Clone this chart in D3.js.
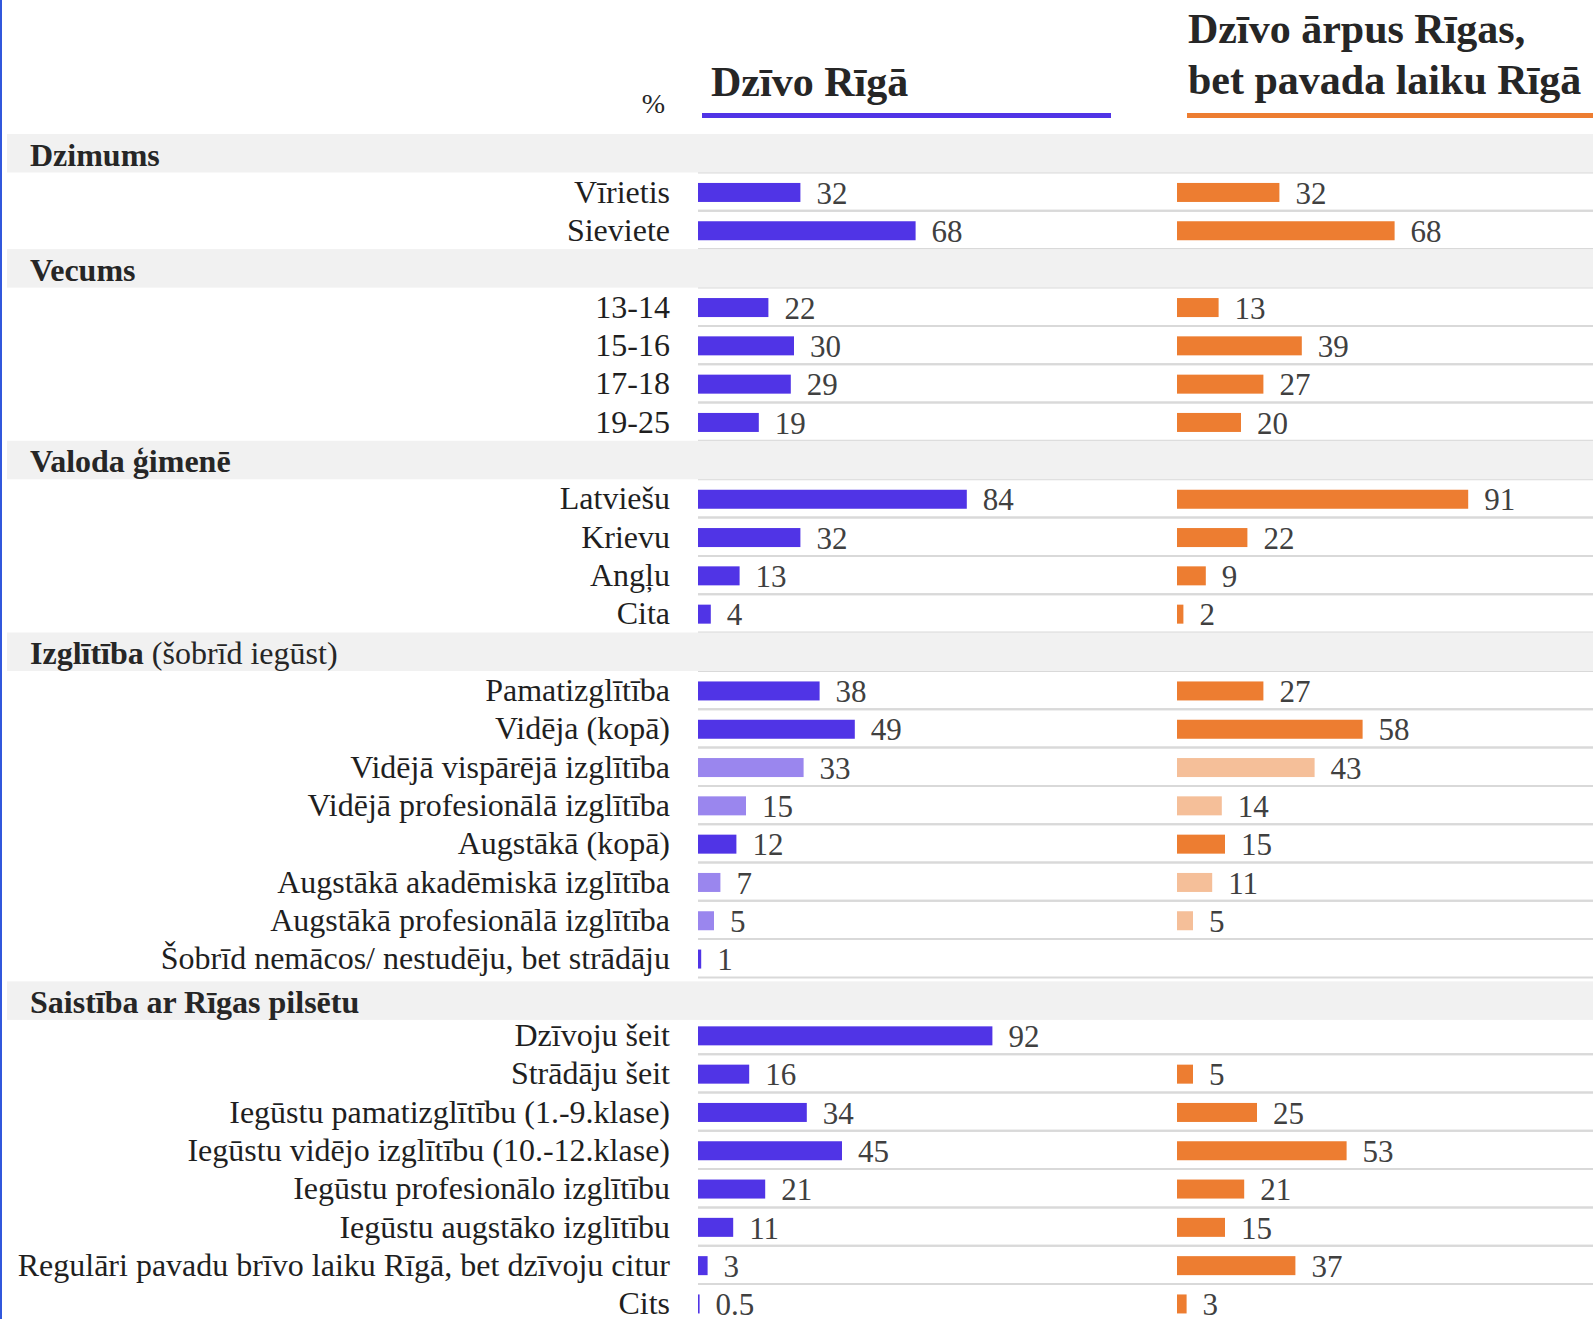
<!DOCTYPE html>
<html><head><meta charset="utf-8">
<script src="https://cdn.jsdelivr.net/npm/d3@7"></script>
<style>
body{margin:0;background:#fff;}
svg{display:block;font-family:"Liberation Serif","Times New Roman",serif;}
</style>
</head><body><svg id="chart" width="1593" height="1319"></svg>
<script>
// ---------- DATA ----------
const sections = ["Dzimums", "Vecums", "Valoda ģimenē", "Izglītība", "Saistība ar Rīgas pilsētu"];
const sectionNotes = ["", "", "", " (šobrīd iegūst)", ""];
const rowSection = [0,0, 1,1,1,1, 2,2,2,2, 3,3,3,3,3,3,3,3, 4,4,4,4,4,4,4,4];
const rowLabels = [
  "Vīrietis", "Sieviete",
  "13-14", "15-16", "17-18", "19-25",
  "Latviešu", "Krievu", "Angļu", "Cita",
  "Pamatizglītība", "Vidēja (kopā)", "Vidējā vispārējā izglītība", "Vidējā profesionālā izglītība",
  "Augstākā (kopā)", "Augstākā akadēmiskā izglītība", "Augstākā profesionālā izglītība",
  "Šobrīd nemācos/ nestudēju, bet strādāju",
  "Dzīvoju šeit", "Strādāju šeit", "Iegūstu pamatizglītību (1.-9.klase)",
  "Iegūstu vidējo izglītību (10.-12.klase)", "Iegūstu profesionālo izglītību",
  "Iegūstu augstāko izglītību", "Regulāri pavadu brīvo laiku Rīgā, bet dzīvoju citur", "Cits"
];
const rigaValues = [32, 68, 22, 30, 29, 19, 84, 32, 13, 4, 38, 49, 33, 15, 12, 7, 5, 1, 92, 16, 34, 45, 21, 11, 3, 0.5];
const outsideValues = [32, 68, 13, 39, 27, 20, 91, 22, 9, 2, 27, 58, 43, 14, 15, 11, 5, null, null, 5, 25, 53, 21, 15, 37, 3];
const rowIsSub = [false,false, false,false,false,false, false,false,false,false,
  false,false,true,true,false,true,true,false, false,false,false,false,false,false,false,false];
const seriesTitles = [["Dzīvo Rīgā"], ["Dzīvo ārpus Rīgas,", "bet pavada laiku Rīgā"]];
const unitLabel = "%";

// ---------- LAYOUT ----------
const W = 1593, H = 1319;
const rowPitch = 38.3, bandH = 38.5, top0 = 134;
const bandShift = [0, 0, 0, 0, 4];
const colX = [698, 1177];
const lineEnd = W;
const colors = {
  dark: ["#5034e6", "#ed7d31"],
  light: ["#9a86ee", "#f5bf99"],
  text: "#1f1f1f", value: "#404040", band: "#f1f1f1", grid: "#d9d9d9"
};

const svg = d3.select("#chart");
const x = d3.scaleLinear().domain([0, 100]).range([0, 320]);

// compute positions
const bandTops = [];
const rowCenters = [];
let yy = top0;
sections.forEach((s, si) => {
  bandTops.push(yy);
  yy += bandH;
  rowSection.forEach((sec, ri) => {
    if (sec === si) { rowCenters[ri] = yy + rowPitch / 2; yy += rowPitch; }
  });
});

// left border
svg.append("rect").attr("x", 0).attr("y", 0).attr("width", 2).attr("height", H).attr("fill", "#3157dc");

// grid lines
const gl = svg.append("g");
rowCenters.forEach(c => {
  [c - rowPitch / 2, c + rowPitch / 2].forEach(ly => {
    gl.append("line").attr("x1", colX[0]).attr("x2", lineEnd)
      .attr("y1", ly).attr("y2", ly)
      .attr("stroke", colors.grid).attr("stroke-width", 2);
  });
});

// section bands
const bands = svg.append("g");
sections.forEach((s, si) => {
  const by = bandTops[si] + bandShift[si];
  bands.append("rect").attr("x", 7).attr("y", by).attr("width", W - 7).attr("height", bandH)
    .attr("fill", colors.band);
  const t = bands.append("text").attr("x", 30).attr("y", by + 31.5)
    .attr("font-size", 32).attr("fill", "#262626");
  t.append("tspan").attr("font-weight", "bold").text(s);
  if (sectionNotes[si]) t.append("tspan").text(sectionNotes[si]);
});

// row labels
svg.append("g").selectAll("text").data(rowLabels).join("text")
  .attr("x", 670).attr("y", (d, i) => rowCenters[i] + 11)
  .attr("text-anchor", "end").attr("font-size", 32).attr("fill", colors.text)
  .text(d => d);

// bars
[rigaValues, outsideValues].forEach((vals, ci) => {
  const g = svg.append("g");
  const data = vals.map((v, i) => ({v, i})).filter(d => d.v !== null);
  g.selectAll("rect").data(data).join("rect")
    .attr("x", colX[ci]).attr("y", d => rowCenters[d.i] - 8.7)
    .attr("width", d => x(d.v)).attr("height", 19)
    .attr("fill", d => rowIsSub[d.i] ? colors.light[ci] : colors.dark[ci]);
  g.selectAll("text").data(data).join("text")
    .attr("x", d => colX[ci] + x(d.v) + 16).attr("y", d => rowCenters[d.i] + 12)
    .attr("font-size", 31).attr("fill", colors.value)
    .text(d => String(d.v));
});

// headers
const titleX = [711, 1188];
const titleBaselines = [[96], [43, 94]];
seriesTitles.forEach((lines, ci) => {
  lines.forEach((ln, li) => {
    svg.append("text").attr("x", titleX[ci]).attr("y", titleBaselines[ci][li])
      .attr("font-size", 42).attr("font-weight", "bold").attr("fill", "#262626").text(ln);
  });
});
svg.append("rect").attr("x", 702).attr("y", 113).attr("width", 1111 - 702).attr("height", 5).attr("fill", colors.dark[0]);
svg.append("rect").attr("x", 1187).attr("y", 113).attr("width", W - 1187).attr("height", 5).attr("fill", colors.dark[1]);
svg.append("text").attr("x", 665).attr("y", 113).attr("text-anchor", "end")
  .attr("font-size", 28).attr("fill", "#262626").text(unitLabel);
</script>
</body></html>
